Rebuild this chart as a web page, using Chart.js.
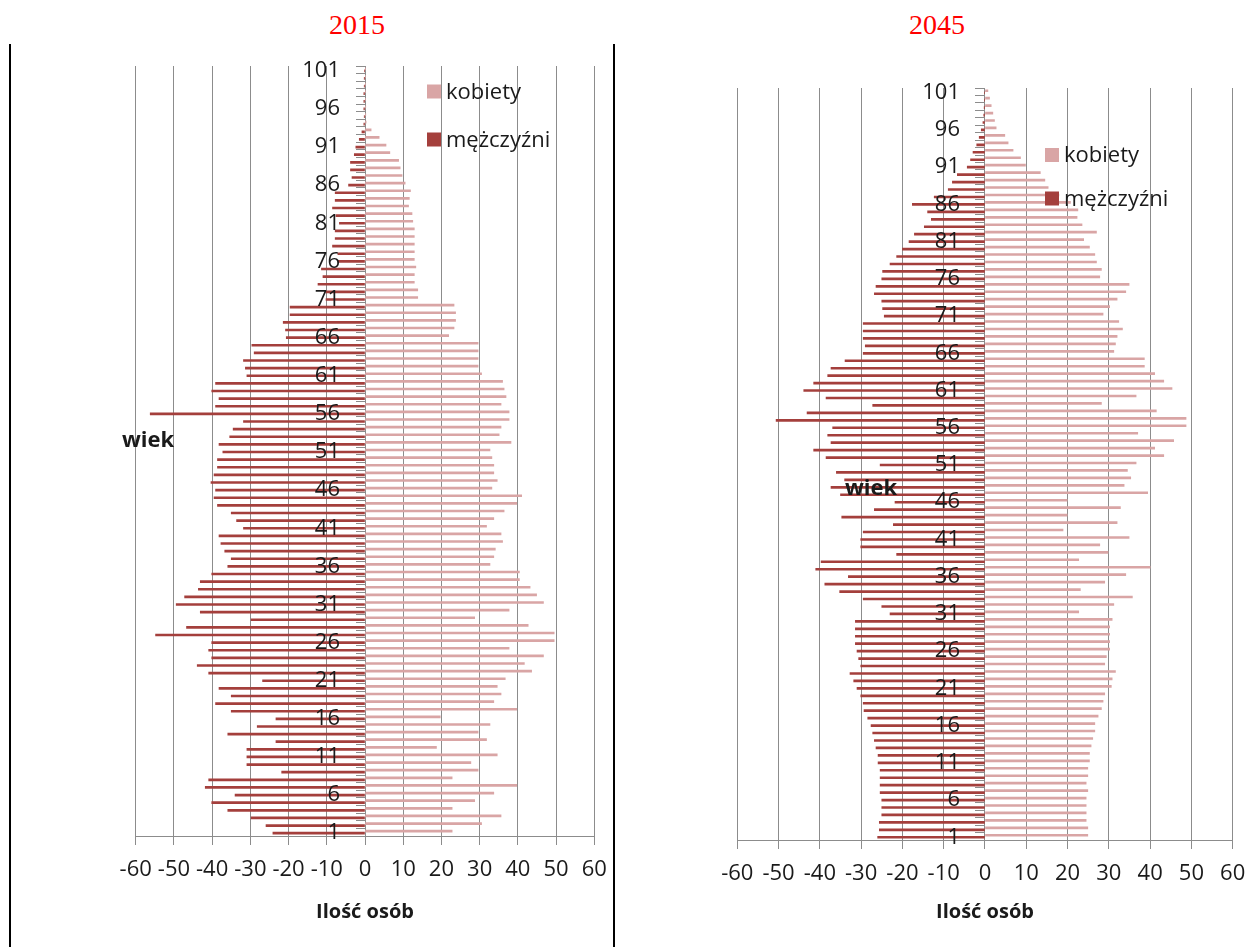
<!DOCTYPE html>
<html><head><meta charset="utf-8">
<script src="https://cdn.jsdelivr.net/npm/chart.js@4.4.1/dist/chart.umd.min.js"></script>
<style>
html,body{margin:0;padding:0;background:#fff;width:1245px;height:947px;overflow:hidden;position:relative;}
.vline{position:absolute;width:2px;background:#000;}
.title{position:absolute;font-family:'Liberation Serif','Times New Roman',serif;font-size:28px;line-height:28px;color:#f00;transform:translateX(-50%);}
.cv{position:absolute;}
</style></head><body>
<div class="vline" style="left:9px;top:44px;height:903px"></div>
<div class="vline" style="left:613px;top:44px;height:903px"></div>
<div class="title" style="left:357px;top:11px">2015</div>
<div class="title" style="left:937px;top:11px">2045</div>
<div class="cv" style="left:100px;top:40px;width:520px;height:907px"><canvas id="c1"></canvas></div>
<div class="cv" style="left:640px;top:40px;width:620px;height:907px"><canvas id="c2"></canvas></div>
<script>
// ---- data ----
const ages = Array.from({length: 101}, (_, i) => String(i + 1));
const seriesNames = ['kobiety', 'mężczyźni'];
const xAxisTitle = 'Ilość osób';
const yAxisTitle = 'wiek';

const women2015 = [22.8,30.5,35.6,22.8,28.7,33.7,39.7,22.8,29.6,27.7,
  34.6,18.7,31.8,29.6,32.7,19.7,39.7,33.7,35.6,34.6,
  36.7,43.6,41.7,46.7,37.7,49.5,49.5,42.7,28.7,37.7,
  46.7,44.9,43.2,40.4,40.4,32.7,33.7,34.1,36.0,35.6,
  31.8,33.7,36.4,39.7,41.0,33.2,34.6,33.7,33.7,33.2,
  32.7,38.2,35.1,35.6,37.7,37.7,35.6,36.9,36.4,36.0,
  30.5,29.6,29.6,29.6,29.6,21.9,23.3,23.7,23.7,23.3,
  13.8,13.8,12.9,12.9,13.3,12.9,12.9,12.9,12.9,12.9,
  12.5,12.3,11.4,11.6,11.9,10.5,9.7,9.2,8.8,6.5,
  5.5,3.7,1.6,0.3,0.2,0.2,0.1,0.1,0.1,0.1,0.1];
const men2015 = [-24.1,-25.9,-29.8,-35.9,-40.1,-34.0,-41.8,-40.9,-21.8,-30.9,
  -30.9,-30.9,-23.3,-35.9,-28.2,-23.3,-35.0,-39.1,-35.0,-38.2,
  -26.8,-40.9,-43.9,-40.1,-40.9,-40.1,-54.8,-46.7,-29.8,-43.1,
  -49.4,-47.2,-43.6,-43.1,-40.1,-35.9,-35.0,-36.7,-37.7,-38.2,
  -31.8,-33.6,-35.0,-38.6,-39.5,-39.1,-40.3,-39.5,-38.6,-38.6,
  -37.2,-38.2,-35.4,-34.5,-31.8,-56.2,-39.1,-38.2,-40.1,-39.1,
  -30.9,-31.3,-31.8,-29.0,-29.6,-20.6,-20.8,-21.4,-19.6,-19.6,
  -10.2,-10.2,-12.3,-11.0,-11.4,-7.1,-7.1,-8.5,-7.8,-7.8,
  -6.7,-7.6,-8.5,-7.8,-7.8,-4.3,-3.4,-3.8,-3.8,-2.8,
  -2.4,-1.5,-0.8,-0.3,-0.2,-0.3,-0.3,-0.3,-0.2,-0.2,-0.1];

const women2045 = [24.9,24.9,24.5,24.5,24.5,24.5,24.9,24.5,24.9,24.9,
  25.3,25.3,25.7,26.1,26.6,26.6,27.4,28.2,28.6,29.0,
  30.6,30.8,31.6,29.0,29.4,30.2,30.2,30.2,30.2,30.8,
  22.7,31.2,35.7,23.1,29.0,34.1,40.0,22.7,29.8,27.8,
  34.9,18.9,32.0,19.9,32.8,19.9,39.4,33.7,35.3,34.5,
  36.6,43.3,41.1,45.7,37.0,48.7,48.7,41.5,28.2,36.6,
  45.3,43.3,41.1,38.6,38.6,31.2,31.6,32.0,33.3,32.4,
  28.6,30.2,32.0,34.1,34.9,27.8,28.2,27.0,26.6,25.3,
  23.9,27.0,23.5,22.3,22.5,20.7,17.9,15.3,14.5,13.4,
  9.8,8.6,6.8,5.6,4.8,2.7,2.3,1.9,1.5,1.1,0.7];
const men2045 = [-26.0,-25.6,-25.6,-25.0,-25.0,-25.0,-25.4,-25.4,-25.4,-25.4,
  -25.9,-25.9,-26.4,-26.8,-27.2,-27.6,-28.4,-29.3,-29.5,-30.1,
  -31.0,-31.8,-32.7,-30.1,-30.6,-31.0,-31.4,-31.4,-31.4,-31.4,
  -23.0,-25.0,-29.5,-35.2,-38.8,-33.1,-41.0,-39.7,-21.4,-30.1,
  -30.1,-29.5,-22.2,-34.7,-26.8,-21.8,-35.0,-37.3,-34.0,-36.0,
  -25.4,-38.5,-41.5,-37.3,-38.1,-36.9,-50.6,-43.1,-27.2,-38.5,
  -43.9,-41.5,-38.1,-37.3,-33.9,-29.5,-29.0,-29.5,-29.5,-29.5,
  -24.4,-24.8,-25.0,-26.8,-26.4,-25.0,-24.8,-23.0,-21.4,-20.0,
  -18.4,-17.1,-14.7,-13.0,-13.9,-17.6,-12.3,-8.9,-7.9,-6.7,
  -4.3,-3.5,-2.9,-2.0,-1.4,-0.9,-0.5,-0.3,-0.2,-0.1,-0.1];

const xMin = -60, xMax = 60, xStep = 10;
const ageLabelEvery = 5;

// ---- styling ----
const WOMEN_COLOR = '#D9A5A5';
const MEN_COLOR = '#A43F3C';
const GRID = '#8c8c8c';
const TEXT = '#1a1a1a';
const FONT = '"Open Sans", "Noto Sans", sans-serif';

const overlay = {
  id: 'overlay',
  afterDraw(chart, args, o) {
    const {ctx, chartArea: ca} = chart;
    const xs = chart.scales.x, ys = chart.scales.y;
    ctx.save();
    // age labels beside the zero axis
    ctx.fillStyle = TEXT;
    ctx.font = '22px ' + FONT;
    ctx.textAlign = 'right';
    ctx.textBaseline = 'middle';
    const x0 = xs.getPixelForValue(0);
    ys.ticks.forEach((t, i) => {
      if (i % ageLabelEvery === 0) {
        ctx.fillText(ys.getLabelForValue(t.value), x0 - o.labelGap, ys.getPixelForTick(i) + 1);
      }
    });
    // "wiek"
    ctx.textAlign = 'left';
    ctx.font = 'bold 22px ' + FONT;
    ctx.fillText(o.axisLabel, ca.left + o.wiekDx, ca.top + o.wiekDy);
    // legend
    ctx.font = '22px ' + FONT;
    chart.data.datasets.forEach((ds, i) => {
      const x = ca.left + o.legDx;
      const y = ca.top + o.legDy + i * o.legGap;
      ctx.fillStyle = ds.backgroundColor;
      ctx.fillRect(x, y - 7, 14, 14);
      ctx.fillStyle = TEXT;
      ctx.fillText(ds.label, x + 19, y + 1);
    });
    ctx.restore();
  }
};

function makeChart(id, women, men, lay) {
  return new Chart(document.getElementById(id), {
    type: 'bar',
    data: {
      labels: ages,
      datasets: [
        {label: seriesNames[0], data: women, backgroundColor: WOMEN_COLOR, barThickness: 2},
        {label: seriesNames[1], data: men, backgroundColor: MEN_COLOR, barThickness: 2}
      ]
    },
    plugins: [overlay],
    options: {
      indexAxis: 'y',
      responsive: true,
      maintainAspectRatio: false,
      animation: false,
      layout: {padding: {left: lay.pl, right: lay.pr, top: lay.pt, bottom: 0}},
      plugins: {
        legend: {display: false},
        tooltip: {enabled: false},
        overlay: {axisLabel: yAxisTitle, labelGap: 25, wiekDx: lay.wdx, wiekDy: lay.wdy, legDx: lay.ldx, legDy: lay.ldy, legGap: lay.lgap}
      },
      scales: {
        x: {
          type: 'linear', min: xMin, max: xMax,
          ticks: {stepSize: xStep, font: {family: FONT, size: 22}, color: TEXT, padding: 12, maxRotation: 0},
          grid: {color: GRID, lineWidth: 1, tickLength: 9, drawTicks: true},
          border: {display: true, color: GRID, width: 1},
          title: {display: true, text: xAxisTitle, color: TEXT, font: {family: FONT, size: 20, weight: 'bold'}, padding: {top: 0, bottom: 23}},
          afterFit: s => { s.height = lay.xh; }
        },
        y: {
          type: 'category',
          reverse: true,
          position: {x: 0},
          grid: {drawOnChartArea: false, drawTicks: true, tickLength: 9, color: GRID, offset: true},
          border: {display: true, color: GRID, width: 1},
          ticks: {autoSkip: false, display: false}
        }
      }
    }
  });
}

makeChart('c1', women2015, men2015, {pl: 35.7, pr: 25.7, pt: 26, xh: 111, wdx: -13.7, wdy: 375, ldx: 291.3, ldy: 25.5, lgap: 48});
makeChart('c2', women2045, men2045, {pl: 97.3, pr: 27.3, pt: 48, xh: 107, wdx: 107.7, wdy: 401, ldx: 307.7, ldy: 67, lgap: 43.5});
</script>
</body></html>
